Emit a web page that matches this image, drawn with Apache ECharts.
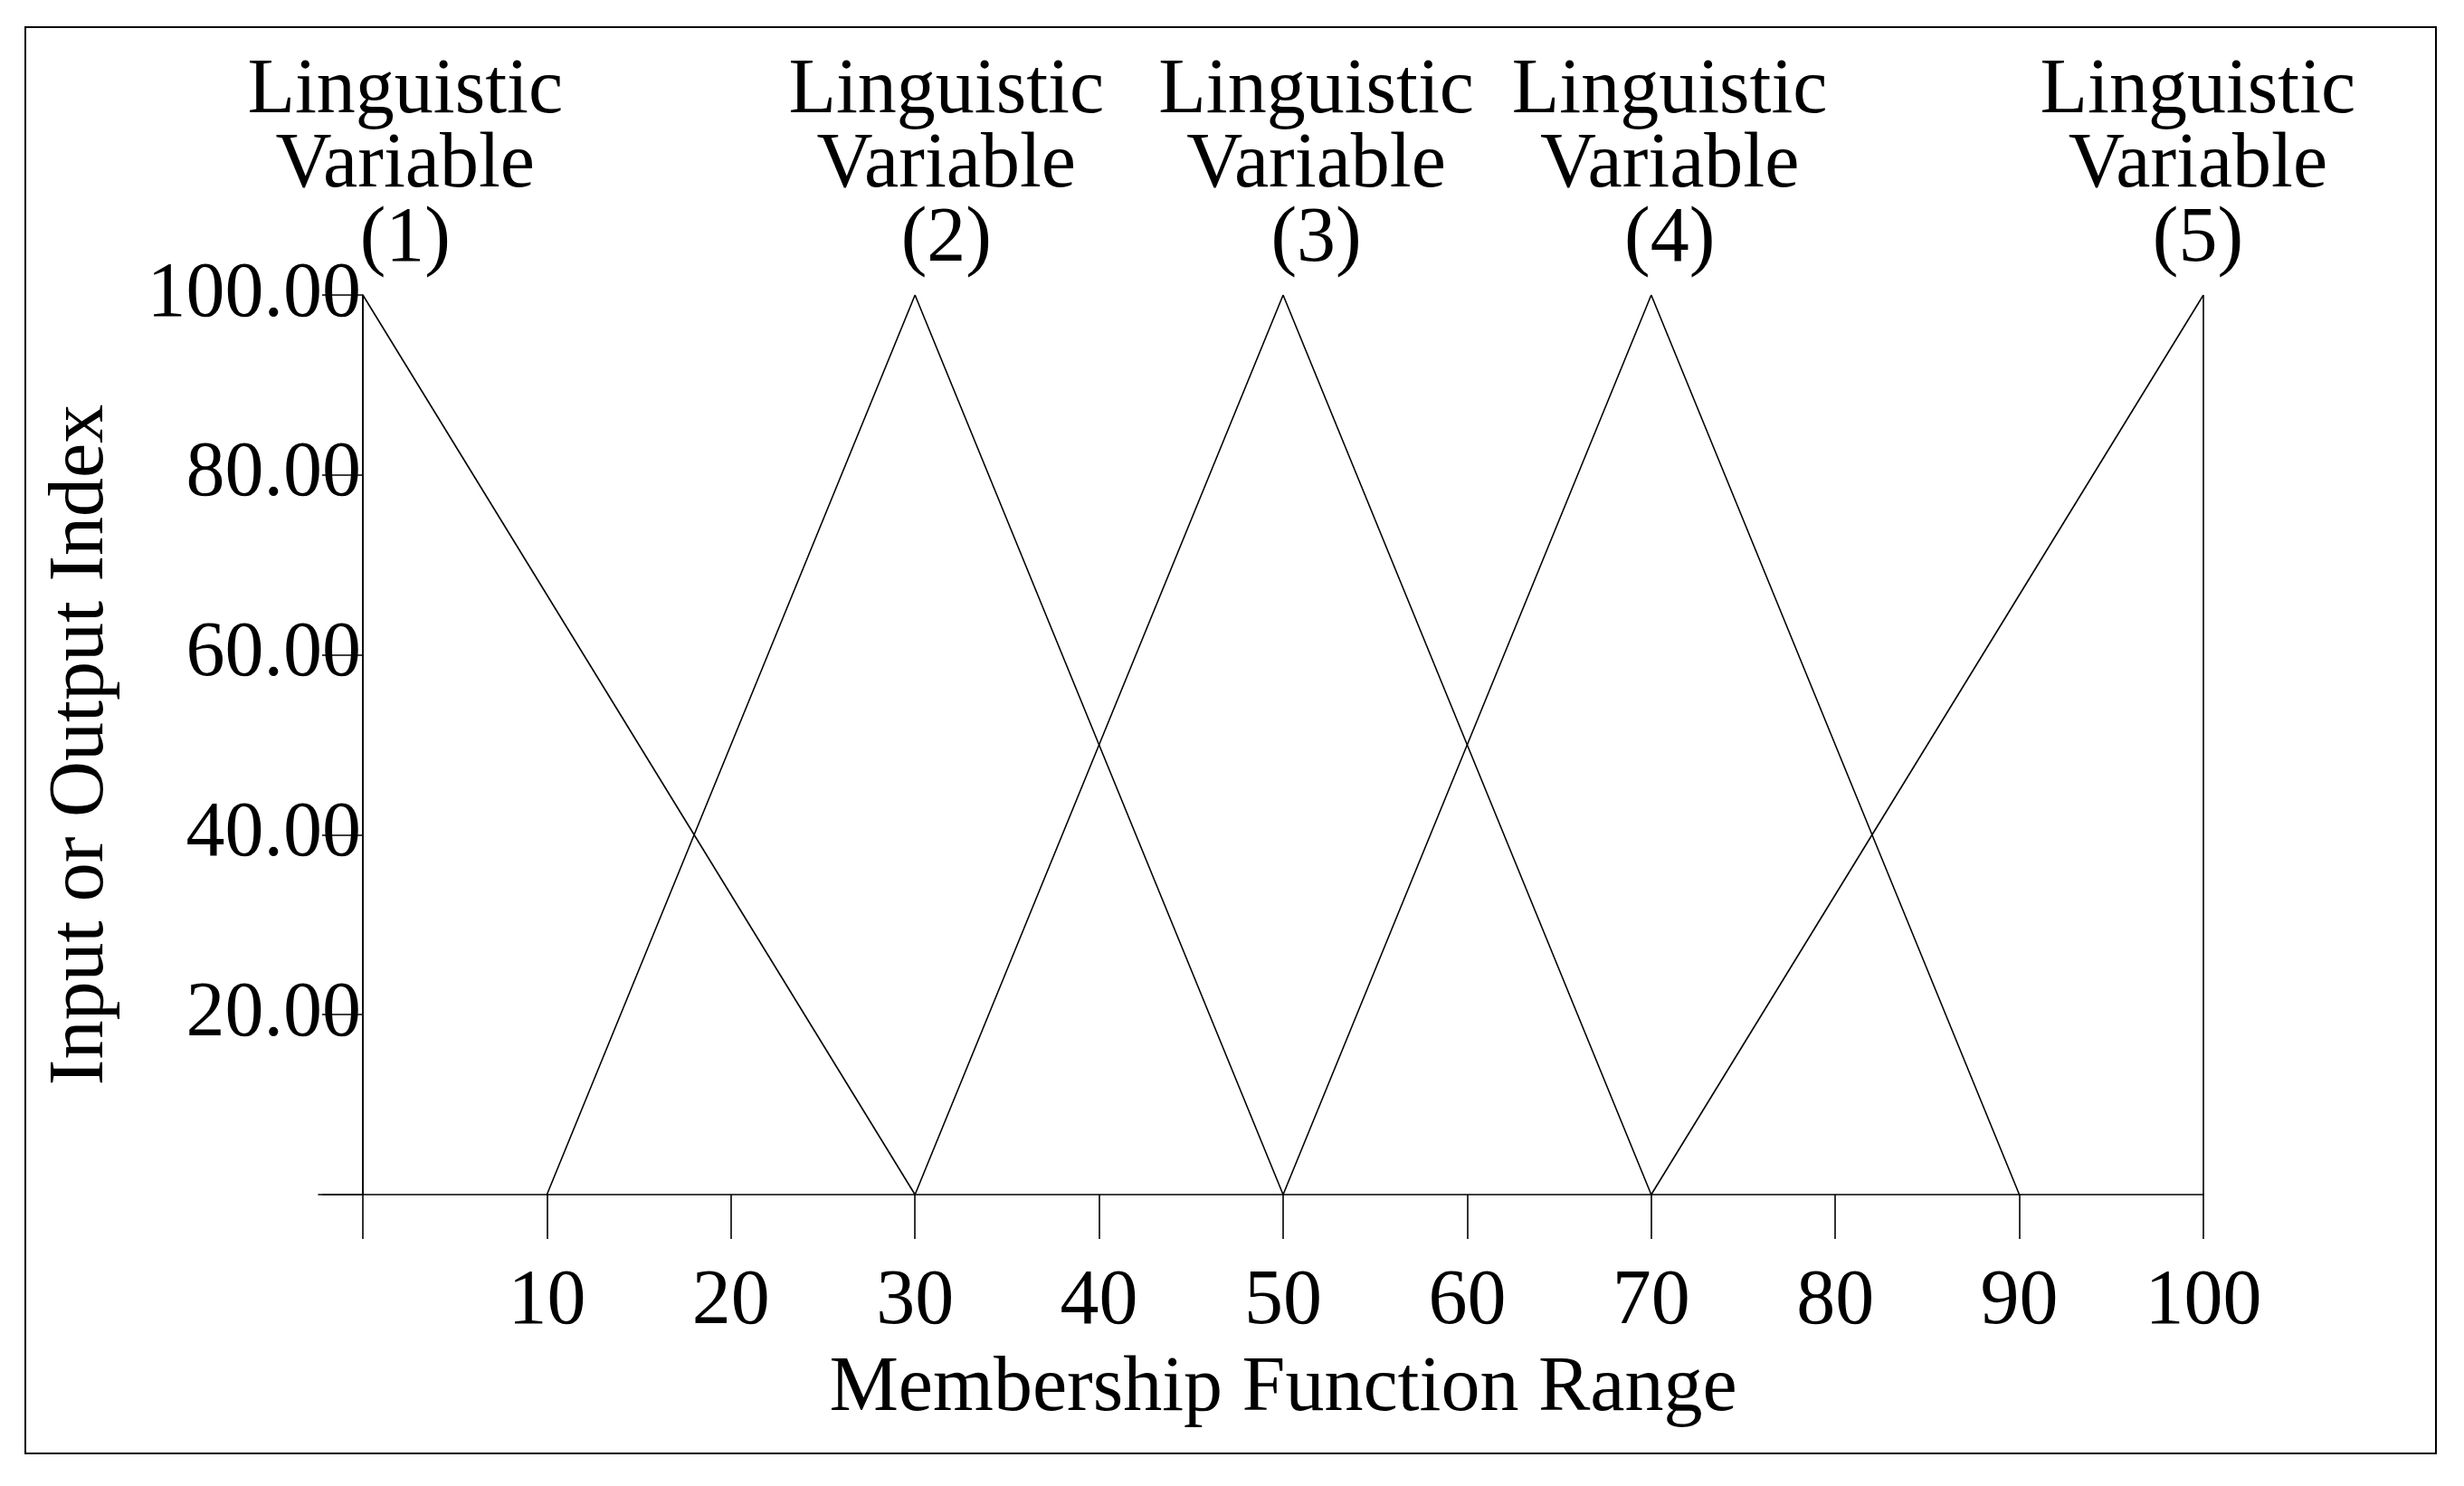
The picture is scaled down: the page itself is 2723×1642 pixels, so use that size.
<!DOCTYPE html>
<html><head><meta charset="utf-8">
<script src="https://cdn.jsdelivr.net/npm/echarts@6/dist/echarts.min.js"></script>
<style>html,body{margin:0;padding:0;background:#fff}#c{width:2723px;height:1642px}</style>
</head><body><div id="c"></div>
<script>
const lv1 = [[0,100],[30,0]];
const lv2 = [[10,0],[30,100],[50,0]];
const lv3 = [[30,0],[50,100],[70,0]];
const lv4 = [[50,0],[70,100],[90,0]];
const lv5 = [[70,0],[100,100]];
const edges = [[[0,0],[0,100]],[[100,0],[100,100]]];
const labelNames = ['(1)','(2)','(3)','(4)','(5)'];
const labelX = [2.3,31.7,51.8,71,99.7];
const F = 'Liberation Serif, Times New Roman, serif';
const chart = echarts.init(document.getElementById('c'));
const line = d => ({type:'line',data:d,xAxisIndex:0,yAxisIndex:0,symbol:'none',lineStyle:{color:'#000',width:1.6},silent:true});
chart.setOption({
  animation:false,
  backgroundColor:'#fff',
  grid:[{left:401,width:2034,top:326,height:994},{left:352,width:2083,top:326,height:994}],
  xAxis:[{type:'value',gridIndex:0,min:0,max:100,interval:10,
    axisLine:{show:false},axisTick:{show:true,length:49,lineStyle:{color:'#000',width:1.6}},
    splitLine:{show:false},
    axisLabel:{margin:76,fontSize:86,fontFamily:F,color:'#000',formatter:v=>v===0?'':v},
    name:'Membership Function Range',nameLocation:'middle',nameGap:172,
    nameTextStyle:{fontSize:86,fontFamily:F,color:'#000'}},
   {type:'value',gridIndex:1,min:-2.4,max:100,axisLine:{show:true,lineStyle:{color:'#000',width:1.6}},
    axisTick:{show:false},axisLabel:{show:false},splitLine:{show:false}}],
  yAxis:[{type:'value',gridIndex:0,min:0,max:100,interval:20,
    axisLine:{show:true,lineStyle:{color:'#000',width:1.6}},
    axisTick:{show:true,length:45,lineStyle:{color:'#000',width:1.6}},
    splitLine:{show:false},
    axisLabel:{margin:2,fontSize:86,fontFamily:F,color:'#000',formatter:v=>v===0?'':v.toFixed(2)},
    name:'Input or Output Index',nameLocation:'middle',nameGap:268,
    nameTextStyle:{fontSize:86,fontFamily:F,color:'#000'}},
   {type:'value',gridIndex:1,min:0,max:100,show:false}],
  graphic:[{type:'rect',shape:{x:28,y:30,width:2664,height:1576},style:{fill:'none',stroke:'#000',lineWidth:2}}],
  series:[line(lv1),line(lv2),line(lv3),line(lv4),line(lv5),
    line(edges[0]),line(edges[1]),
    {type:'scatter',xAxisIndex:0,yAxisIndex:0,symbolSize:0,silent:true,
     data:labelX.map((x,i)=>({value:[x,100],name:labelNames[i]})),
     label:{show:true,position:'top',distance:20,fontSize:86,lineHeight:82,fontFamily:F,color:'#000',opacity:1,align:'center',
       formatter:p=>'Linguistic\nVariable\n'+p.name}}]
});
</script></body></html>
